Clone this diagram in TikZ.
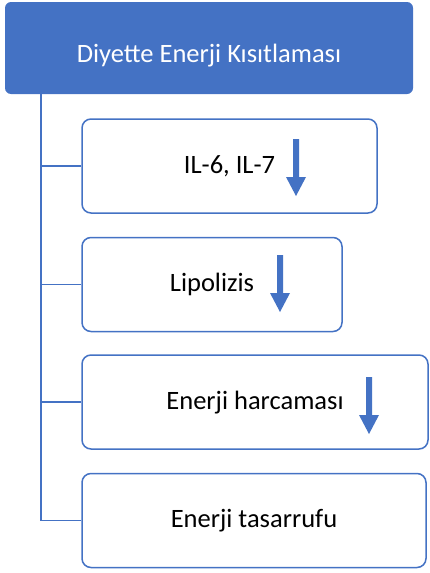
\documentclass[tikz,border=0pt]{standalone}
\usepackage{fontspec}
\setmainfont{Carlito}
\definecolor{officeblue}{HTML}{4472C4}
\begin{document}
\begin{tikzpicture}[x=1pt,y=-1pt,
  labelfont/.style={font=\fontsize{26.5}{30}\selectfont},
  headbox/.style={rectangle, rounded corners=6pt, fill=officeblue, text=white,
    inner sep=0pt, minimum width=408pt, minimum height=92pt,
    labelfont, text height=30pt, text depth=2pt},
  itembox/.style={rectangle, rounded corners=9pt, draw=officeblue, line width=1.5pt,
    fill=white, inner sep=0pt, minimum height=94pt,
    labelfont, text height=18pt, text depth=4pt},
  conn/.style={draw=officeblue, line width=1.5pt},
  downarrow/.pic={\fill[officeblue] (-3,0) -- (3,0) -- (3,38) -- (10,38) -- (0,57)
    -- (-10,38) -- (-3,38) -- cycle;}]
\useasboundingbox (0,0) rectangle (429,573);

% header
\node[headbox] (top) at (209,48) {Diyette Enerji Kısıtlaması};

% child boxes
\node[itembox, minimum width=295pt] (b1) at (229.5,166) {IL-6, IL-7};
\node[itembox, minimum width=260pt] (b2) at (212,284.5) {Lipolizis};
\node[itembox, minimum width=346pt] (b3) at (255,402) {Enerji harcaması};
\node[itembox, minimum width=344pt] (b4) at (254,520.5) {Enerji tasarrufu};

% tree connectors
\coordinate (trunk) at (41,94);
\draw[conn] (trunk) |- (b4.west);
\draw[conn] (trunk |- b1.west) -- (b1.west);
\draw[conn] (trunk |- b2.west) -- (b2.west);
\draw[conn] (trunk |- b3.west) -- (b3.west);

% decrease arrows
\pic at (296,139) {downarrow};
\pic at (280,255) {downarrow};
\pic at (369,377) {downarrow};
\end{tikzpicture}
\end{document}
